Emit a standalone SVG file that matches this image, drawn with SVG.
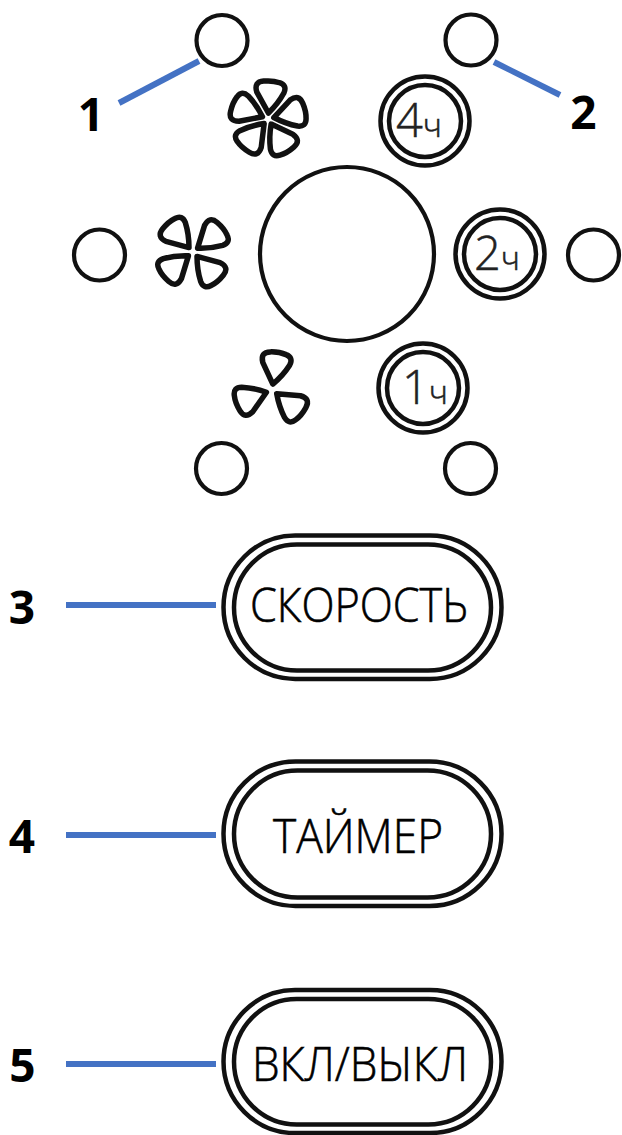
<svg xmlns="http://www.w3.org/2000/svg" width="622" height="1135" viewBox="0 0 622 1135">
<style>
.o{fill:#fff;stroke:#111;stroke-width:4.200}
.r{fill:none;stroke:#111;stroke-width:4.500}
.b{fill:none;stroke:#111;stroke-width:5.500;stroke-linejoin:round}
.c{stroke:#4472c4;stroke-width:6;fill:none}
.n{font:700 46px "Open Sans",sans-serif;fill:#000;text-anchor:middle}
.t{font:300 47px "Open Sans",sans-serif;fill:#000;stroke:#000;stroke-width:.6}
.h{font:300 47px "Open Sans",sans-serif;fill:#222;stroke:#222;stroke-width:.5}
.hs{font-size:33px}
</style>
<defs>
<path id="bl" d="M0-6L-13-26Q-17-36-7-37.500Q2-39 9-37Q17-35 14-27Q9-16 0-6Z" class="b"/>
<g id="ring"><circle r="44.500" class="r"/><circle r="36" class="r"/></g>
</defs>
<rect width="622" height="1135" fill="#fff"/>
<g id="connectors">
<path class="c" d="M119 103L199 61"/>
<path class="c" d="M494 62L560 95"/>
<path class="c" d="M66 605H216"/>
<path class="c" d="M66 835H216"/>
<path class="c" d="M66 1064H216"/>
</g>
<g id="led1"><circle class="o" cx="222" cy="40.500" r="25.500"/></g>
<g id="led2"><circle class="o" cx="471" cy="40" r="25.500"/></g>
<g id="led3"><circle class="o" cx="99.500" cy="255" r="25.500"/></g>
<g id="led4"><circle class="o" cx="593.500" cy="255" r="25.500"/></g>
<g id="led5"><circle class="o" cx="221.500" cy="468.500" r="25.500"/></g>
<g id="led6"><circle class="o" cx="470.500" cy="468.500" r="25.500"/></g>
<g id="dial"><circle class="o" cx="347" cy="254" r="87"/></g>
<g id="fan5" transform="translate(268 119)">
<use href="#bl" transform="rotate(4)"/><use href="#bl" transform="rotate(76)"/><use href="#bl" transform="rotate(148)"/><use href="#bl" transform="rotate(220)"/><use href="#bl" transform="rotate(292)"/>
</g>
<g id="fan4" transform="translate(193 252)">
<use href="#bl" transform="rotate(-42)"/><use href="#bl" transform="rotate(50)"/><use href="#bl" transform="rotate(138)"/><use href="#bl" transform="rotate(230)"/>
</g>
<g id="fan3" transform="translate(272 390)">
<use href="#bl" transform="rotate(8)"/><use href="#bl" transform="rotate(128)"/><use href="#bl" transform="rotate(248)"/>
</g>
<g id="t4"><use href="#ring" x="425" y="121"/><text class="h" x="396" y="137">4<tspan class="hs">ч</tspan></text></g>
<g id="t2"><use href="#ring" x="500" y="254"/><text class="h" x="474" y="270">2<tspan class="hs">ч</tspan></text></g>
<g id="t1"><use href="#ring" x="423" y="388"/><text class="h" x="402" y="404">1<tspan class="hs">ч</tspan></text></g>
<g id="speed">
<rect class="r" x="223.500" y="535.500" width="278" height="143.500" rx="71.700" ry="71.700"/>
<rect class="r" x="234" y="544.500" width="257" height="126" rx="63" ry="63"/>
<text class="t" x="250" y="622" textLength="218" lengthAdjust="spacingAndGlyphs">СКОРОСТЬ</text>
</g>
<g id="timer">
<rect class="r" x="223.500" y="761.500" width="278" height="144.500" rx="72" ry="72"/>
<rect class="r" x="234" y="770.500" width="257" height="127" rx="63.500" ry="63.500"/>
<text class="t" x="273" y="853" textLength="170" lengthAdjust="spacingAndGlyphs">ТАЙМЕР</text>
</g>
<g id="onoff">
<rect class="r" x="223.500" y="990" width="278" height="143" rx="71.500" ry="71.500"/>
<rect class="r" x="234" y="999" width="257" height="125.500" rx="62.700" ry="62.700"/>
<text class="t" x="252" y="1081" textLength="216" lengthAdjust="spacingAndGlyphs">ВКЛ/ВЫКЛ</text>
</g>
<g id="labels">
<text class="n" x="91" y="131">1</text>
<text class="n" x="583.500" y="129">2</text>
<text class="n" x="22" y="624">3</text>
<text class="n" x="22" y="853">4</text>
<text class="n" x="22.500" y="1082">5</text>
</g>
</svg>
